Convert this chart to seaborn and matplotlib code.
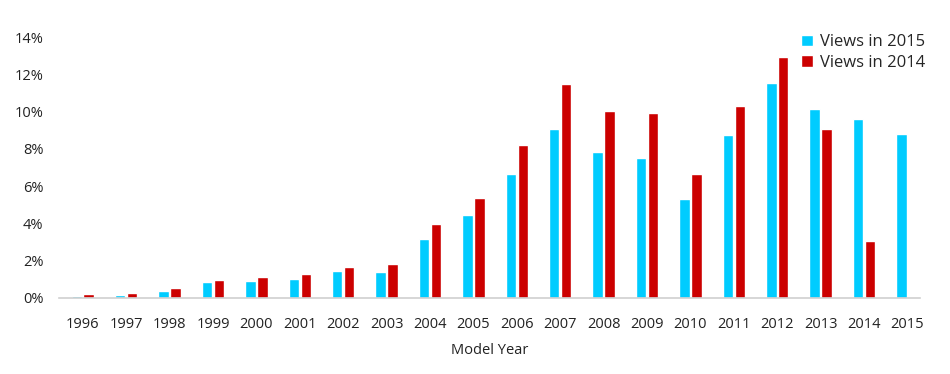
import matplotlib
matplotlib.use("Agg")
import matplotlib.pyplot as plt
import matplotlib.ticker as mtick
import pandas as pd
import seaborn as sns

years = [str(y) for y in range(1996, 2016)]
views_2015 = [0.11, 0.14, 0.38, 0.84, 0.90, 1.02, 1.43, 1.40, 3.15, 4.44,
              6.68, 9.09, 7.83, 7.54, 5.30, 8.75, 11.54, 10.13, 9.59, 8.80]
views_2014 = [0.18, 0.25, 0.54, 0.97, 1.09, 1.25, 1.65, 1.81, 3.94, 5.38,
              8.21, 11.49, 10.04, 9.96, 6.68, 10.32, 12.94, 9.09, 3.05, 0.0]

df = pd.DataFrame({
    "year": years * 2,
    "share": views_2015 + views_2014,
    "series": ["Views in 2015"] * len(years) + ["Views in 2014"] * len(years),
})

sns.set_theme(style="white")
plt.rcParams["font.family"] = ["Open Sans", "DejaVu Sans"]

fig = plt.figure(figsize=(9.5, 3.74), dpi=100)
ax = fig.add_axes([0.062, 0.204, 0.906, 0.696])

sns.barplot(data=df, x="year", y="share", hue="series",
            palette={"Views in 2015": "#00CCFF", "Views in 2014": "#CC0000"},
            width=0.55, gap=0.12, saturation=1, ax=ax)

ax.set_ylim(0, 14)
ax.set_xlim(-0.55, 19.28)
ax.set_yticks(range(0, 15, 2))
ax.yaxis.set_major_formatter(mtick.FuncFormatter(lambda v, p: f"{int(v)}%"))
ax.tick_params(axis="y", length=0, pad=11, labelsize=10.5, labelcolor="#222222")
ax.tick_params(axis="x", length=0, pad=14, labelsize=10.5, labelcolor="#222222")
ax.set_ylabel("")
ax.set_xlabel("Model Year", fontsize=10.5, color="#222222", labelpad=8)

for s in ["top", "right", "left"]:
    ax.spines[s].set_visible(False)
ax.spines["bottom"].set_color("#d0d0d0")
ax.spines["bottom"].set_linewidth(1.2)

leg = ax.legend(loc="upper right", bbox_to_anchor=(1.014, 1.037), frameon=False,
                fontsize=12, handlelength=0.7, handleheight=0.7,
                handletextpad=0.4, labelspacing=0.25, borderaxespad=0)

fig.savefig("out.png", dpi=100)
